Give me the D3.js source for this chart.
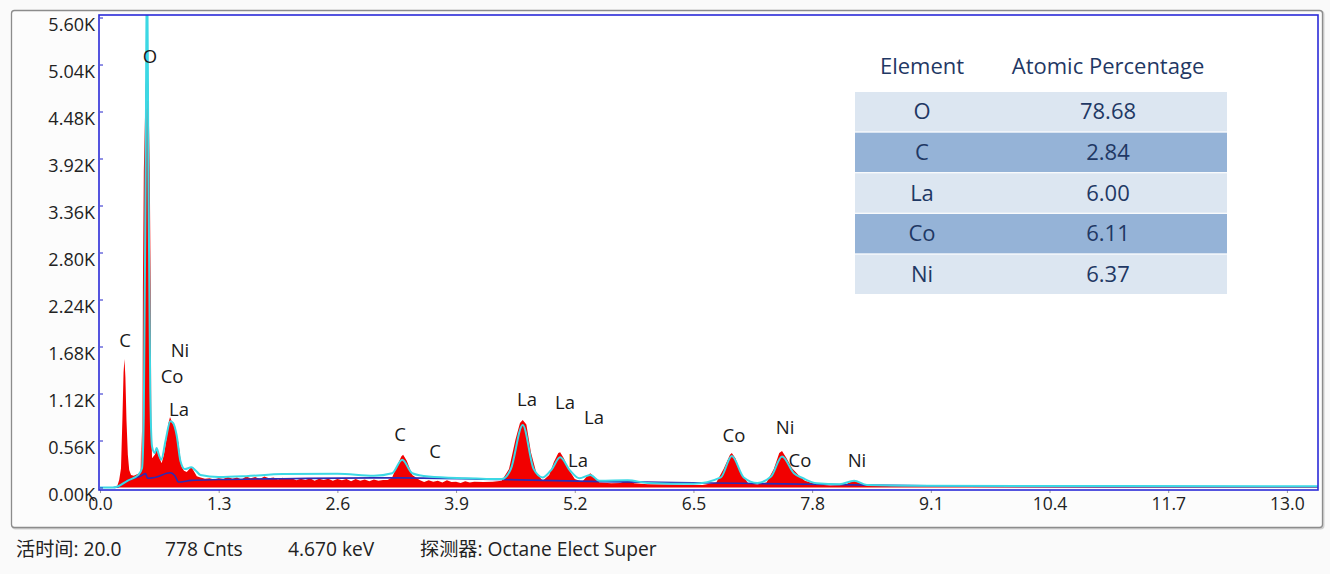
<!DOCTYPE html>
<html>
<head>
<meta charset="utf-8">
<script src="https://cdn.jsdelivr.net/npm/d3@7"></script>
<style>
  body { margin: 0; background: #fafafa; }
  svg text { font-family: "Open Sans", "Noto Sans CJK SC", sans-serif; }
</style>
</head>
<body>
<svg id="chart"></svg>
<script>
// tick values
var energyTicks = [0.0, 1.3, 2.6, 3.9, 5.2, 6.5, 7.8, 9.1, 10.4, 11.7, 13.0];
var countTicks = [0, 560, 1120, 1680, 2240, 2800, 3360, 3920, 4480, 5040, 5600];

// measured spectrum [keV, counts]
var measured = [
  [0.00,0],[0.17,0],[0.19,20],[0.21,90],[0.23,230],[0.245,800],[0.258,1370],[0.268,1530],
  [0.278,1320],[0.29,800],[0.305,390],[0.32,210],[0.34,150],[0.37,140],[0.40,155],[0.43,170],
  [0.445,180],[0.452,670],[0.458,220],[0.465,370],[0.47,2370],[0.48,3770],[0.50,4770],
  [0.515,5070],[0.53,4770],[0.545,3770],[0.555,2370],[0.562,770],[0.57,350],[0.60,390],
  [0.62,450],[0.645,370],[0.675,290],[0.70,390],[0.73,590],[0.75,770],[0.767,840],[0.785,790],
  [0.80,750],[0.82,720],[0.84,620],[0.86,530],[0.88,350],[0.895,245],[0.92,200],[0.95,185],
  [0.98,220],[1.00,245],[1.03,190],[1.06,135],[1.10,120],[1.15,105],[1.2,110],[1.25,95],
  [1.3,110],[1.35,100],[1.4,125],[1.45,105],[1.5,120],[1.55,95],[1.6,130],[1.65,110],
  [1.7,125],[1.75,100],[1.8,130],[1.85,110],[1.9,120],[1.95,95],[2.0,115],[2.05,100],
  [2.1,110],[2.15,85],[2.2,105],[2.25,90],[2.3,110],[2.35,80],[2.4,105],[2.45,90],
  [2.5,105],[2.55,80],[2.6,100],[2.65,85],[2.7,100],[2.75,75],[2.8,100],[2.85,80],
  [2.9,95],[2.95,75],[3.0,95],[3.05,80],[3.1,90],[3.15,90],[3.2,120],[3.25,250],
  [3.3,370],[3.32,390],[3.36,320],[3.42,150],[3.5,90],[3.55,65],[3.6,85],[3.65,70],
  [3.7,80],[3.75,60],[3.8,85],[3.85,65],[3.9,70],[3.95,55],[4.0,75],[4.05,60],[4.1,70],
  [4.2,65],[4.3,70],[4.4,80],[4.48,220],[4.55,570],[4.6,770],[4.63,805],[4.67,750],
  [4.72,420],[4.78,170],[4.85,80],[4.92,150],[4.97,300],[5.02,410],[5.04,420],[5.08,350],
  [5.13,220],[5.2,100],[5.28,70],[5.34,140],[5.37,170],[5.41,130],[5.47,60],[5.6,50],
  [5.7,55],[5.78,90],[5.85,50],[6.0,40],[6.2,35],[6.4,30],[6.6,30],[6.75,60],[6.83,220],
  [6.9,390],[6.92,410],[6.96,350],[7.02,170],[7.1,50],[7.2,35],[7.3,60],[7.38,220],
  [7.44,410],[7.47,435],[7.52,350],[7.58,230],[7.65,150],[7.72,80],[7.85,35],[8.0,25],
  [8.15,30],[8.22,65],[8.26,77],[8.31,60],[8.4,20],[8.8,15],[9.5,12],[10.5,10],[11.5,8],
  [12.5,6],[13.4,6]
];

// fitted spectrum [keV, counts]
var fitted = [
  [0.0,0],[0.14,0],[0.2,15],[0.3,80],[0.42,150],[0.46,230],[0.48,870],[0.50,3770],[0.515,6500],
  [0.53,3770],[0.55,1170],[0.57,490],[0.6,410],[0.62,470],[0.645,390],[0.67,330],[0.72,570],
  [0.77,790],[0.8,770],[0.84,620],[0.88,320],[0.93,220],[1.0,240],[1.05,200],[1.1,150],
  [1.3,125],[1.6,135],[2.0,160],[2.6,165],[3.0,140],[3.2,170],[3.31,330],[3.42,170],
  [3.6,130],[4.0,110],[4.4,100],[4.5,220],[4.63,745],[4.75,220],[4.85,120],[4.95,220],
  [5.04,360],[5.15,200],[5.25,110],[5.37,150],[5.47,80],[5.78,85],[6.0,55],[6.5,45],
  [6.8,120],[6.92,375],[7.05,120],[7.2,55],[7.35,130],[7.47,370],[7.6,170],[7.7,110],
  [7.85,50],[8.1,40],[8.26,80],[8.4,30],[9.0,22],[11.0,17],[13.4,15]
];

// background [keV, counts]
var background = [
  [0.15,0],[0.2,10],[0.3,80],[0.45,140],[0.5,165],[0.52,110],[0.6,120],[0.77,175],
  [0.82,140],[0.86,65],[1.0,85],[1.3,95],[2.0,105],[3.0,115],[3.3,115],[4.4,95],
  [5.5,70],[6.3,60],[7.0,50],[8.0,35],[9.5,15],[11.0,10],[13.4,8]
];

// peak labels [element, keV, counts]
var peakLabels = [
  ["O",0.548,5130],["C",0.274,1757],["Ni",0.876,1638],["Co",0.789,1328],["La",0.865,935],
  ["C",3.286,637],["C",3.669,423],["La",4.677,1054],["La",5.093,1007],["La",5.411,828],
  ["La",5.235,327],["Co",6.944,625],["Ni",7.503,709],["Co",7.667,327],["Ni",8.291,316]
];

// table
var elements = ["O", "C", "La", "Co", "Ni"];
var atomicPct = ["78.68", "2.84", "6.00", "6.11", "6.37"];

// footer
var footerItems = ["活时间: 20.0", "778 Cnts", "4.670 keV", "探测器: Octane Elect Super"];
var footerX = [16, 165, 288, 420];

var width = 1330, height = 574;
var svg = d3.select("#chart").attr("width", width).attr("height", height);

// outer frame
svg.append("rect")
  .attr("x", 12.5).attr("y", 11.5).attr("width", 1311).attr("height", 517)
  .attr("rx", 3).attr("fill", "none").attr("stroke", "#d0d0d0").attr("stroke-width", 2);
svg.append("rect")
  .attr("x", 11.5).attr("y", 10.5).attr("width", 1311).attr("height", 517)
  .attr("rx", 3).attr("fill", "#fcfcfc").attr("stroke", "#8c8c8c").attr("stroke-width", 1.3);

var plotLeft = 100, plotRight = 1318, plotTop = 15, plotBottom = 490;

var x = d3.scaleLinear().domain([0, (plotRight - plotLeft) / 91.3]).range([plotLeft, plotRight]);
var y = d3.scaleLinear().domain([0, 5630]).range([487.5, plotTop]);

svg.append("rect").attr("x", plotLeft).attr("y", plotTop)
  .attr("width", plotRight - plotLeft).attr("height", plotBottom - plotTop).attr("fill", "#ffffff");

svg.append("clipPath").attr("id", "clip")
  .append("rect").attr("x", plotLeft).attr("y", plotTop)
  .attr("width", plotRight - plotLeft).attr("height", plotBottom - plotTop);

var plot = svg.append("g").attr("clip-path", "url(#clip)");

var area = d3.area()
  .x(function(d) { return x(d[0]); })
  .y0(y(0))
  .y1(function(d) { return y(d[1]); });

var line = d3.line()
  .x(function(d) { return x(d[0]); })
  .y(function(d) { return y(d[1]); })
  .curve(d3.curveMonotoneX);

plot.append("path").datum(measured)
  .attr("d", area).attr("fill", "#f20000");

plot.append("path").datum(background)
  .attr("d", line).attr("fill", "none").attr("stroke", "#2b2bb5").attr("stroke-width", 1.6);

plot.append("path").datum(fitted)
  .attr("d", line).attr("fill", "none").attr("stroke", "#3cd8e4").attr("stroke-width", 2);

// peak labels
svg.append("g").selectAll("text")
  .data(peakLabels).enter().append("text")
  .attr("x", function(d) { return x(d[1]); })
  .attr("y", function(d) { return y(d[2]); })
  .attr("dy", "0.35em")
  .attr("text-anchor", "middle")
  .attr("font-size", 18.5)
  .attr("fill", "#1a1a1a")
  .text(function(d) { return d[0]; });

// axes
var xAxis = svg.append("g").attr("transform", "translate(0," + plotBottom + ")")
  .call(d3.axisBottom(x).tickValues(energyTicks).tickFormat(d3.format(".1f")).tickSize(3).tickPadding(5));
xAxis.select(".domain").remove();
xAxis.selectAll("line").attr("stroke", "#999");
xAxis.selectAll("text").attr("font-size", 17.5).attr("fill", "#222")
  .attr("font-family", "'Open Sans', sans-serif");

var yAxis = svg.append("g").attr("transform", "translate(" + plotLeft + ",0)")
  .call(d3.axisLeft(y).tickValues(countTicks)
    .tickFormat(function(d) { return (d / 1000).toFixed(2) + "K"; })
    .tickSize(-3).tickPadding(5));
yAxis.select(".domain").remove();
yAxis.selectAll("line").attr("stroke", "#2222cc");
yAxis.selectAll("text").attr("font-size", 18).attr("fill", "#222").attr("dy", "0.72em")
  .attr("font-family", "'Open Sans', sans-serif");

// plot border
svg.append("rect").attr("x", plotLeft - 1).attr("y", plotTop)
  .attr("width", plotRight - plotLeft + 1).attr("height", plotBottom - plotTop)
  .attr("fill", "none").attr("stroke", "#2a2ad8").attr("stroke-width", 1.6);

// table
var tLeft = 855, tRight = 1227, col1 = 922, col2 = 1108;
var rowY = d3.scaleBand().domain(d3.range(elements.length)).range([92, 294]).paddingInner(0.03);
var rowFill = ["#dce6f1", "#95b3d7"];
var textBlue = "#1f3864";

svg.append("text").attr("x", col1).attr("y", 66).attr("dy", "0.35em")
  .attr("text-anchor", "middle").attr("font-size", 22).attr("fill", textBlue).text("Element");
svg.append("text").attr("x", col2).attr("y", 66).attr("dy", "0.35em")
  .attr("text-anchor", "middle").attr("font-size", 22).attr("fill", textBlue).text("Atomic Percentage");

var rows = svg.append("g").selectAll("g")
  .data(elements).enter().append("g");
rows.append("rect")
  .attr("x", tLeft).attr("width", tRight - tLeft)
  .attr("y", function(d, i) { return rowY(i); })
  .attr("height", rowY.bandwidth())
  .attr("fill", function(d, i) { return rowFill[i % 2]; });
rows.append("text")
  .attr("x", col1)
  .attr("y", function(d, i) { return rowY(i) + rowY.bandwidth() / 2; })
  .attr("dy", "0.35em").attr("text-anchor", "middle")
  .attr("font-size", 22).attr("fill", textBlue)
  .text(function(d) { return d; });
rows.append("text")
  .attr("x", col2)
  .attr("y", function(d, i) { return rowY(i) + rowY.bandwidth() / 2; })
  .attr("dy", "0.35em").attr("text-anchor", "middle")
  .attr("font-size", 22).attr("fill", textBlue)
  .text(function(d, i) { return atomicPct[i]; });

// footer
svg.append("g").selectAll("text")
  .data(footerItems).enter().append("text")
  .attr("x", function(d, i) { return footerX[i]; })
  .attr("y", 549).attr("dy", "0.35em")
  .attr("font-size", 19.2).attr("fill", "#222")
  .text(function(d) { return d; });
</script>
</body>
</html>
